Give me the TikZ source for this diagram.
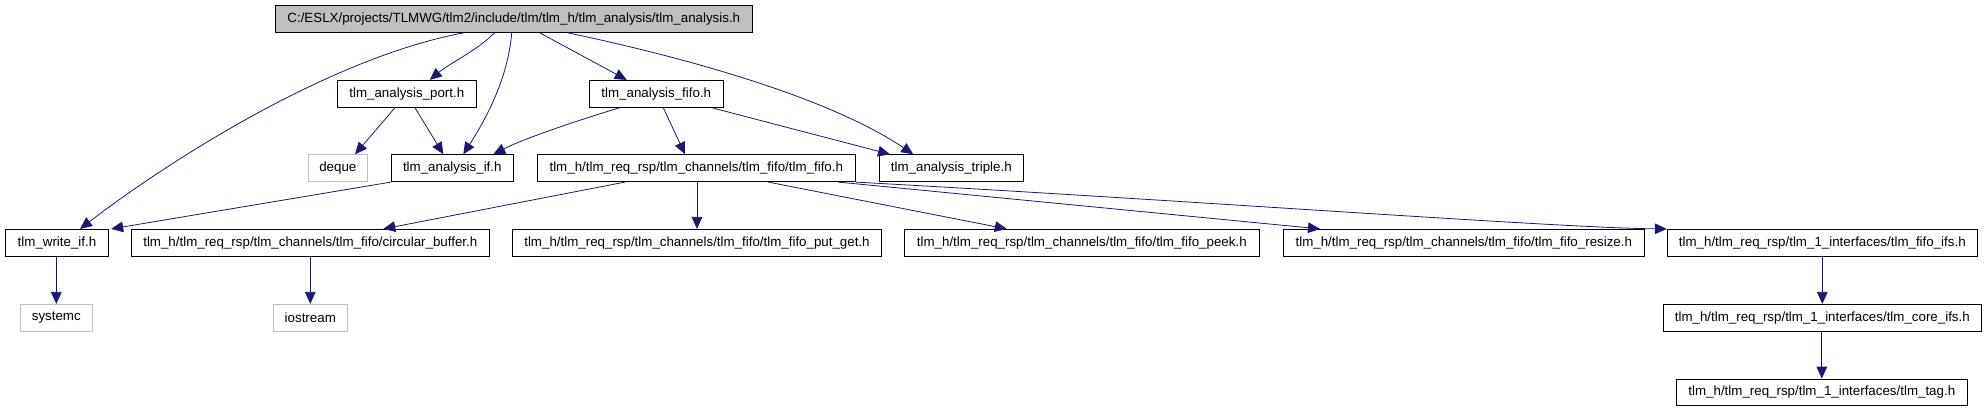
\documentclass[tikz,border=0pt]{standalone}
\usepackage{fontspec}
\setmainfont{Liberation Sans}
\usetikzlibrary{arrows.meta,calc}
\definecolor{edgecol}{RGB}{25,25,112}
\definecolor{rootfill}{RGB}{191,191,191}
\definecolor{extborder}{RGB}{191,191,191}
\begin{document}
\begin{tikzpicture}[x=0.75pt,y=-0.75pt,
  filebox/.style={draw=black,line width=0.75pt,minimum height=20.1pt,inner sep=0pt,font=\fontsize{10}{12}\selectfont},
  rootbox/.style={filebox,fill=rootfill},
  extbox/.style={filebox,draw=extborder},
  edge/.style={draw=edgecol,line width=0.6pt,-{Triangle[length=9pt,width=8pt]}}]
\useasboundingbox (0,0) rectangle (1985,411);
% row 1
\node[rootbox,minimum width=357.75pt] (root) at (513.8,19) {C:/ESLX/projects/TLMWG/tlm2/include/tlm/tlm\_h/tlm\_analysis/tlm\_analysis.h};
% row 2
\node[filebox,minimum width=104.25pt] (port) at (406.8,93.8) {tlm\_analysis\_port.h};
\node[filebox,minimum width=100.5pt] (fifo) at (656.3,93.8) {tlm\_analysis\_fifo.h};
% row 3
\node[extbox,minimum width=44.25pt] (deque) at (337.8,168.2) {deque};
\node[filebox,minimum width=91.5pt] (aif) at (452.3,168.2) {tlm\_analysis\_if.h};
\node[filebox,minimum width=238.5pt] (tlmfifo) at (696.3,168.2) {tlm\_h/tlm\_req\_rsp/tlm\_channels/tlm\_fifo/tlm\_fifo.h};
\node[filebox,minimum width=108pt] (triple) at (951.3,168.2) {tlm\_analysis\_triple.h};
% row 4
\node[filebox,minimum width=77.5pt] (writeif) at (57,242.8) {tlm\_write\_if.h};
\node[filebox,minimum width=268.5pt] (circ) at (310.3,242.8) {tlm\_h/tlm\_req\_rsp/tlm\_channels/tlm\_fifo/circular\_buffer.h};
\node[filebox,minimum width=277pt] (putget) at (697,242.8) {tlm\_h/tlm\_req\_rsp/tlm\_channels/tlm\_fifo/tlm\_fifo\_put\_get.h};
\node[filebox,minimum width=266.25pt] (peek) at (1081.8,242.8) {tlm\_h/tlm\_req\_rsp/tlm\_channels/tlm\_fifo/tlm\_fifo\_peek.h};
\node[filebox,minimum width=270.75pt] (resize) at (1463.8,242.8) {tlm\_h/tlm\_req\_rsp/tlm\_channels/tlm\_fifo/tlm\_fifo\_resize.h};
\node[filebox,minimum width=232.5pt] (ifs) at (1822.3,242.8) {tlm\_h/tlm\_req\_rsp/tlm\_1\_interfaces/tlm\_fifo\_ifs.h};
% row 5
\node[extbox,minimum width=54pt] (systemc) at (56.3,317.8) {systemc};
\node[extbox,minimum width=55.5pt] (iostream) at (310.3,317.8) {iostream};
\node[filebox,minimum width=238.5pt] (core) at (1822.3,317.8) {tlm\_h/tlm\_req\_rsp/tlm\_1\_interfaces/tlm\_core\_ifs.h};
% row 6
\node[filebox,minimum width=218.25pt] (tag) at (1821.8,392.5) {tlm\_h/tlm\_req\_rsp/tlm\_1\_interfaces/tlm\_tag.h};
% edges from root
\draw[edge] ($(root.south)+(-50.5,0)$) .. controls (330,58) and (170,160) .. ($(writeif.north)+(23,0)$);
\draw[edge] ($(root.south)+(-19.5,0)$) .. controls (478,50) and (450,63) .. ($(port.north)+(23,0)$);
\draw[edge] ($(root.south)+(-2.1,0)$) .. controls (508,80) and (484,122) .. ($(aif.north)+(11,0)$);
\draw[edge] ($(root.south)+(26.2,0)$) -- ($(fifo.north)+(-29.6,0)$);
\draw[edge] ($(root.south)+(54.5,0)$) .. controls (720,65) and (840,105) .. ($(triple.north)+(-38,0)$);
% edges from port
\draw[edge] ($(port.south)+(-11.8,0)$) -- ($(deque.north)+(17.2,0)$);
\draw[edge] ($(port.south)+(8.2,0)$) -- ($(aif.north)+(-9,0)$);
% edges from fifo
\draw[edge] ($(fifo.south)+(-36.3,0)$) .. controls (585,118) and (525,138) .. ($(aif.north)+(41,0)$);
\draw[edge] ($(fifo.south)+(7,0)$) -- ($(tlmfifo.north)+(-11.3,0)$);
\draw[edge] ($(fifo.south)+(55.4,0)$) -- ($(triple.north)+(-61.3,0)$);
% edges from aif
\draw[edge] (aif.south west) -- ($(writeif.north east)+(2,0)$);
% edges from tlmfifo
\draw[edge] ($(tlmfifo.south)+(-71.3,0)$) -- ($(circ.north)+(73,0)$);
\draw[edge] (tlmfifo.south -| putget.north) -- (putget.north);
\draw[edge] ($(tlmfifo.south)+(72,0)$) -- ($(peek.north)+(-75,0)$);
\draw[edge] ($(tlmfifo.south)+(142,0)$) -- ($(resize.north)+(-143.8,0)$);
\draw[edge] (tlmfifo.south east) .. controls (1200,201) and (1560,228) .. (ifs.north west);
% lower edges
\draw[edge] (writeif.south -| systemc.north) -- (systemc.north);
\draw[edge] (circ.south) -- (iostream.north);
\draw[edge] (ifs.south) -- (core.north);
\draw[edge] (core.south -| tag.north) -- (tag.north);
\end{tikzpicture}
\end{document}
